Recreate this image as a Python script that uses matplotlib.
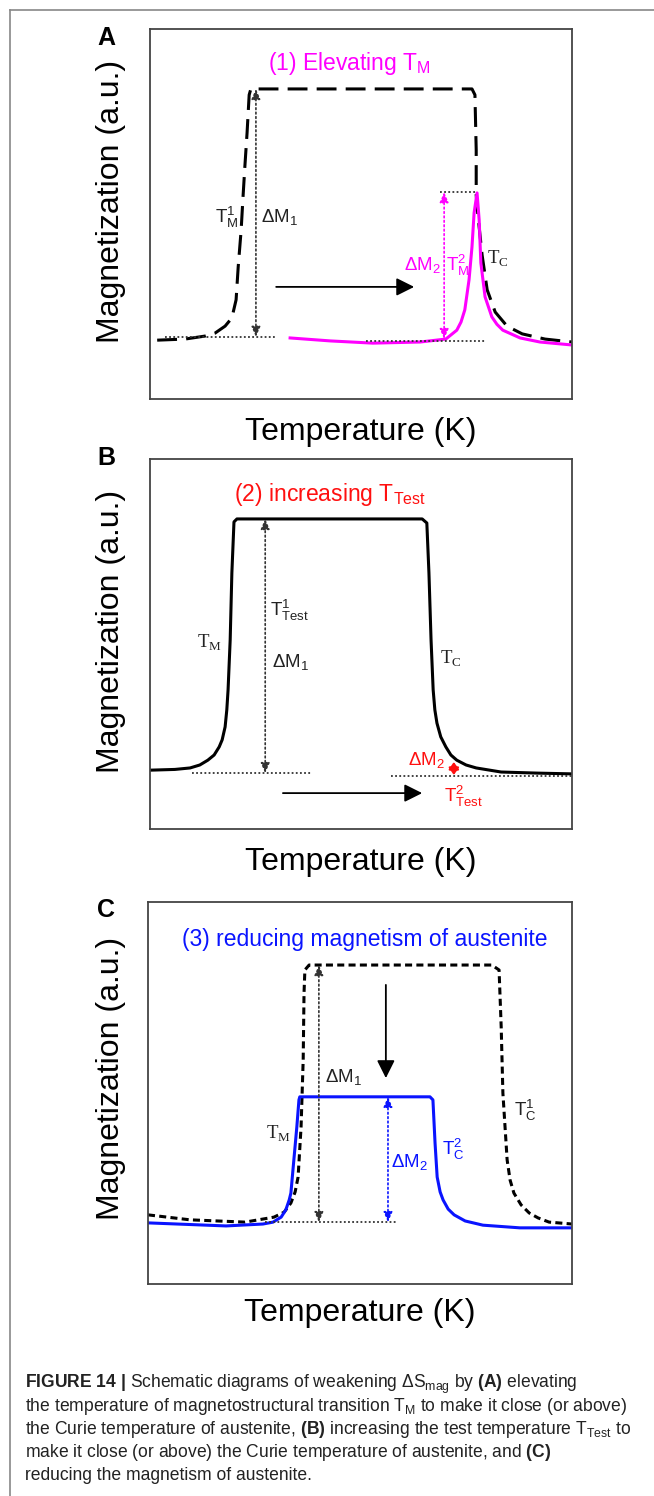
import matplotlib.pyplot as plt
from matplotlib.lines import Line2D

plt.rcParams['font.family'] = ['Liberation Sans', 'DejaVu Sans']
plt.rcParams['mathtext.fontset'] = 'custom'
plt.rcParams['mathtext.rm'] = 'Liberation Serif'
plt.rcParams['mathtext.sf'] = 'Liberation Sans'
plt.rcParams['mathtext.it'] = 'Liberation Sans:italic'
plt.rcParams['mathtext.bf'] = 'Liberation Sans:bold'

# ---- data (schematic, axes run 0..100 in arbitrary units) ----
# panel A: dashed = original curve, pink = curve with elevated T_M
a_dash_x = [1.7, 8.3, 13.0, 15.4, 17.8, 19.4, 20.4, 20.9, 21.6, 22.0, 22.5, 23.0, 23.5, 23.9,
            76.3, 77.0, 77.3, 77.3, 77.7, 78.7, 79.9, 81.8, 84.6, 88.2, 93.6, 100]
a_dash_y = [15.9, 16.2, 17.0, 17.8, 19.7, 21.9, 26.8, 35.7, 45.7, 53.8, 63.2, 71.9, 82.2, 83.8,
            83.8, 82.2, 67.3, 55.1, 49.7, 38.9, 29.5, 23.5, 19.7, 17.6, 16.2, 15.4]
a_pink_x = [33.2, 42.7, 52.8, 64.0, 70.1, 72.7, 73.7, 74.6, 75.6, 76.3, 76.8, 77.5,
            78.0, 78.4, 79.4, 81.0, 82.2, 83.6, 87.7, 92.4, 100]
a_pink_y = [16.5, 15.7, 15.1, 15.4, 16.2, 18.6, 20.8, 24.1, 32.2, 41.1, 50.3, 55.7,
            48.4, 36.8, 27.6, 22.2, 20.2, 18.6, 16.5, 15.4, 14.6]

# panel B: single solid curve
b_x = [0, 5.9, 9.5, 11.8, 13.7, 15.2, 16.4, 17.1, 17.8, 18.2, 18.5, 19.0, 19.4, 19.9, 20.6,
       64.5, 65.6, 66.1, 66.6, 67.1, 67.5, 68.0, 68.9, 70.1, 71.3, 72.7, 74.9, 77.3,
       83.2, 91.9, 100]
b_y = [15.9, 16.1, 16.5, 17.3, 18.6, 20.0, 22.2, 24.1, 27.6, 32.2, 37.6, 51.1, 69.2, 83.0, 83.8,
       83.8, 82.7, 69.2, 51.1, 37.6, 32.2, 28.6, 24.9, 22.2, 20.0, 18.6, 17.3, 16.5,
       15.4, 15.1, 14.9]

# panel C: dashed = original, blue = reduced austenite magnetism
c_dash_x = [0, 9.9, 22.9, 29.7, 32.1, 33.7, 34.7, 35.4, 36.1, 36.6, 36.8, 37.0, 38.0, 81.1,
            82.8, 83.3, 83.7, 84.7, 85.4, 86.3, 88.0, 89.9, 92.0, 94.6, 100]
c_dash_y = [18.1, 16.8, 16.2, 17.5, 18.8, 21.2, 24.1, 28.0, 41.1, 58.6, 76.2, 82.2, 83.5, 83.5,
            82.2, 67.3, 50.0, 32.5, 27.2, 23.8, 20.7, 18.6, 17.3, 16.2, 15.7]
c_blue_x = [0, 18.4, 27.1, 29.5, 31.4, 32.5, 33.3, 33.7, 34.4, 35.1, 35.6, 35.8, 66.5, 67.2,
            67.7, 68.2, 68.9, 69.6, 70.8, 72.2, 74.8, 79.0, 87.7, 100]
c_blue_y = [16.0, 15.2, 15.7, 16.2, 17.5, 19.4, 22.0, 23.8, 32.5, 41.1, 48.2, 49.0, 49.0, 48.2,
            36.9, 28.0, 24.1, 22.0, 19.6, 18.1, 16.5, 15.4, 14.7, 14.7]

# guide lines: (x0, x1, y) and arrows: (x, y0, y1)
a_hlines = [(3.6, 29.6, 16.8), (51.2, 79.6, 15.7), (68.7, 77.5, 55.9)]
a_dm1 = (25.1, 16.8, 83.8)
a_dm2 = (69.7, 16.2, 55.9)
a_shift = (29.9, 62.6, 30.3)   # x0, x1, y

b_hlines = [(10.0, 38.2, 15.1), (57.1, 100, 14.3)]
b_dm1 = (27.3, 15.1, 83.8)
b_dm2 = (72.0, 18.1, 14.6)
b_shift = (31.5, 64.5, 9.7)

c_hlines = [(27.6, 58.5, 16.2)]
c_dm1 = (40.3, 16.2, 83.5)
c_dm2 = (56.6, 16.2, 49.0)
c_drop = (56.1, 78.3, 53.9)    # x, y0, y1

PINK = '#ff00ff'
RED = '#ff1010'
BLUE = '#0a14ff'
GRID = '#333333'

fig = plt.figure(figsize=(6.54, 14.96), dpi=100)
W, H = 654.0, 1496.0


def make_ax(left, right, top, bottom):
    ax = fig.add_axes([left / W, 1 - bottom / H, (right - left) / W, (bottom - top) / H])
    ax.set_xlim(0, 100)
    ax.set_ylim(0, 100)
    ax.set_xticks([])
    ax.set_yticks([])
    for s in ax.spines.values():
        s.set_color('#444444')
        s.set_linewidth(1.3)
    return ax


def dotted_h(ax, lines, color=GRID):
    for x0, x1, y in lines:
        ax.plot([x0, x1], [y, y], color=color, lw=1.3, ls=(0, (1, 1.3)))


def dbl_arrow(ax, spec, color=GRID, hl=0.5, hw=0.22, lw=1.2, ls=':'):
    x, y0, y1 = spec
    ax.annotate('', xy=(x, y1), xytext=(x, y0),
                arrowprops=dict(arrowstyle=f'<|-|>,head_length={hl},head_width={hw}',
                                color=color, lw=lw, ls=ls, mutation_scale=12,
                                shrinkA=0, shrinkB=0))


def big_arrow(ax, p0, p1):
    ax.annotate('', xy=p1, xytext=p0,
                arrowprops=dict(arrowstyle='-|>,head_length=0.9,head_width=0.45',
                                color='black', lw=1.3, mutation_scale=12,
                                shrinkA=0, shrinkB=0))


def labels(ax, ylab_x, ylab_y, xlab_y):
    ax.text(ylab_x, ylab_y, 'Magnetization (a.u.)', transform=ax.transAxes,
            rotation=90, ha='center', va='center', fontsize=23)
    ax.text(0.5, xlab_y, 'Temperature (K)', transform=ax.transAxes,
            ha='center', va='center', fontsize=23)


LAB = 13.5

# ---------------- panel A ----------------
axA = make_ax(150, 572, 29, 399)
axA.plot(a_dash_x, a_dash_y, color='black', lw=2.2, ls=(0, (6.5, 3)))
axA.plot(a_pink_x, a_pink_y, color=PINK, lw=2.2)
dotted_h(axA, a_hlines)
dbl_arrow(axA, a_dm1)
dbl_arrow(axA, a_dm2, color=PINK)
big_arrow(axA, (a_shift[0], a_shift[2]), (a_shift[1], a_shift[2]))
axA.text(47.2, 90.8, r'(1) Elevating T$_{\mathsf{M}}$', color=PINK, fontsize=16.5,
         ha='center', va='center')
axA.text(18.2, 49.2, r'$\mathsf{T}_{\mathsf{M}}^{\mathsf{1}}$', fontsize=LAB,
         ha='center', va='center', color='#222222')
axA.text(26.3, 49.2, r'ΔM$_{\mathsf{1}}$', fontsize=LAB, ha='left', va='center',
         color='#222222')
axA.text(64.5, 36.2, r'ΔM$_{\mathsf{2}}$', fontsize=LAB, ha='center', va='center',
         color=PINK)
axA.text(73.0, 36.2, r'$\mathsf{T}_{\mathsf{M}}^{\mathsf{2}}$', fontsize=LAB,
         ha='center', va='center', color=PINK)
axA.text(82.5, 38.1, r'$\mathrm{T}_{\mathrm{C}}$', fontsize=LAB, ha='center',
         va='center', color='#222222')
labels(axA, -0.0924, 0.535, -0.089)

# ---------------- panel B ----------------
axB = make_ax(150, 572, 459, 829)
axB.plot(b_x, b_y, color='black', lw=2.2)
dotted_h(axB, b_hlines)
dbl_arrow(axB, b_dm1)
dbl_arrow(axB, b_dm2, color=RED, hl=0.35, hw=0.25, lw=1.5, ls='-')
big_arrow(axB, (b_shift[0], b_shift[2]), (b_shift[1], b_shift[2]))
axB.text(42.7, 90.3, r'(2) increasing T$_{\mathsf{Test}}$', color=RED, fontsize=16.5,
         ha='center', va='center')
axB.text(14.0, 50.5, r'$\mathrm{T}_{\mathrm{M}}$', fontsize=LAB, ha='center',
         va='center', color='#222222')
axB.text(28.4, 59.2, r'$\mathsf{T}_{\mathsf{Test}}^{\mathsf{1}}$', fontsize=LAB,
         ha='left', va='center', color='#222222')
axB.text(28.9, 45.1, r'ΔM$_{\mathsf{1}}$', fontsize=LAB, ha='left', va='center',
         color='#222222')
axB.text(71.3, 46.2, r'$\mathrm{T}_{\mathrm{C}}$', fontsize=LAB, ha='center',
         va='center', color='#222222')
axB.text(65.6, 18.6, r'ΔM$_{\mathsf{2}}$', fontsize=LAB, ha='center', va='center',
         color=RED)
axB.text(74.4, 8.9, r'$\mathsf{T}_{\mathsf{Test}}^{\mathsf{2}}$', fontsize=LAB,
         ha='center', va='center', color=RED)
labels(axB, -0.0924, 0.535, -0.089)

# ---------------- panel C ----------------
axC = make_ax(148, 572, 902, 1284)
axC.plot(c_dash_x, c_dash_y, color='black', lw=2.2, ls=(0, (2.3, 1.4)))
axC.plot(c_blue_x, c_blue_y, color=BLUE, lw=2.2)
dotted_h(axC, c_hlines)
dbl_arrow(axC, c_dm1)
dbl_arrow(axC, c_dm2, color=BLUE)
big_arrow(axC, (c_drop[0], c_drop[1]), (c_drop[0], c_drop[2]))
axC.text(51.2, 90.1, '(3) reducing magnetism of austenite', color=BLUE, fontsize=16.5,
         ha='center', va='center')
axC.text(41.7, 54.2, r'ΔM$_{\mathsf{1}}$', fontsize=LAB, ha='left', va='center',
         color='#222222')
axC.text(30.7, 39.5, r'$\mathrm{T}_{\mathrm{M}}$', fontsize=LAB, ha='center',
         va='center', color='#222222')
axC.text(57.3, 31.9, r'ΔM$_{\mathsf{2}}$', fontsize=LAB, ha='left', va='center',
         color=BLUE)
axC.text(71.9, 35.1, r'$\mathsf{T}_{\mathsf{C}}^{\mathsf{2}}$', fontsize=LAB,
         ha='center', va='center', color=BLUE)
axC.text(88.9, 45.5, r'$\mathsf{T}_{\mathsf{C}}^{\mathsf{1}}$', fontsize=LAB,
         ha='center', va='center', color='#222222')
labels(axC, -0.0873, 0.537, -0.076)

# panel letters
for letter, y in [('A', 38), ('B', 458), ('C', 910)]:
    fig.text(106 / W, 1 - y / H, letter, fontsize=18, fontweight='bold',
             ha='center', va='center')

# caption
caption = [
    r'$\mathbf{FIGURE\ 14\ |}$ Schematic diagrams of weakening ΔS$_{\mathsf{mag}}$ by $\mathbf{(A)}$ elevating',
    r'the temperature of magnetostructural transition T$_{\mathsf{M}}$ to make it close (or above)',
    r'the Curie temperature of austenite, $\mathbf{(B)}$ increasing the test temperature T$_{\mathsf{Test}}$ to',
    r'make it close (or above) the Curie temperature of austenite, and $\mathbf{(C)}$',
    'reducing the magnetism of austenite.',
]
baselines = [1388, 1411, 1434, 1457, 1480]
for line, yb in zip(caption, baselines):
    fig.text(25 / W, 1 - yb / H, line, fontsize=12.65, ha='left', va='baseline',
             color='#222222')

# page frame (left and top rules)
fig.add_artist(Line2D([10 / W, 10 / W], [0, 1 - 10 / H], color='#888888', lw=1.2))
fig.add_artist(Line2D([10 / W, 1], [1 - 10 / H, 1 - 10 / H], color='#888888', lw=1.2))

fig.savefig('out.png', dpi=100, facecolor='white')
